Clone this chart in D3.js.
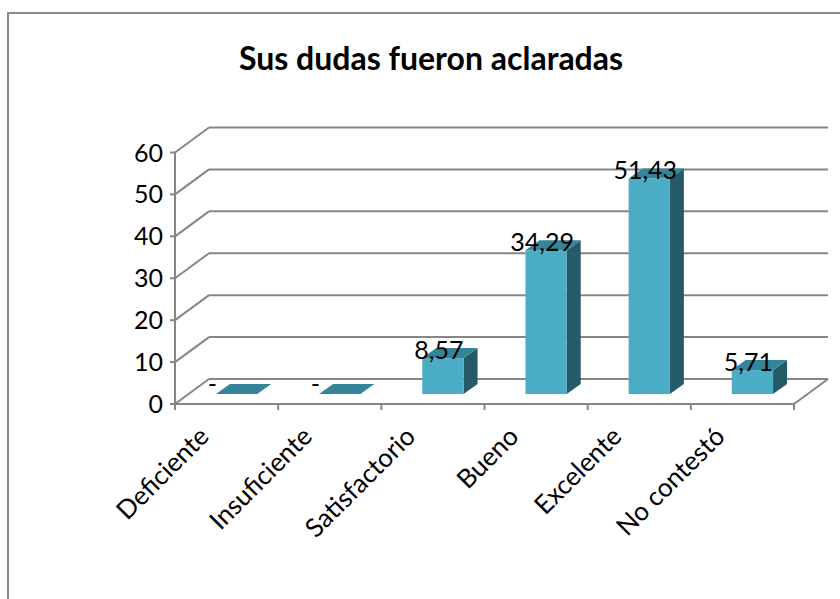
<!DOCTYPE html>
<html><head><meta charset="utf-8">
<script src="https://cdn.jsdelivr.net/npm/d3@7"></script>
<style>body{margin:0;background:#fff}svg{display:block}text{font-family:Lato,"Open Sans",sans-serif}</style>
</head><body><svg id="c" width="840" height="599"></svg>
<script>
const title = "Sus dudas fueron aclaradas";
const categories = ["Deficiente","Insuficiente","Satisfactorio","Bueno","Excelente","No contestó"];
const values = [0, 0, 8.57, 34.29, 51.43, 5.71];
const labels = ["-", "-", "8,57", "34,29", "51,43", "5,71"];
const yTicks = [0,10,20,30,40,50,60];

const svg = d3.select("#c");
const gridC = "#868686";
// chart frame
svg.append("path").attr("d","M8,600 L8,13 L841,13").attr("fill","none").attr("stroke","#8a8a8a").attr("stroke-width",2);

svg.append("text").attr("x",431).attr("y",70).attr("text-anchor","middle")
  .attr("font-size",32).attr("font-weight","bold").text(title);

const x = d3.scaleBand().domain(categories).range([175,794]);
const y = d3.scaleLinear().domain([0,60]).range([404,152.5]);
const D = {dx:34, dy:-25};          // wall depth
const F = {dx:10, dy:-10};          // bar front plane offset
const S = {dx:14, dy:-10};          // bar depth
const bw = x.bandwidth()*0.4;

// back wall gridlines + left wall diagonals
yTicks.forEach(t=>{
  svg.append("line").attr("x1",x.range()[0]+D.dx).attr("x2",x.range()[1]+D.dx)
    .attr("y1",y(t)+D.dy).attr("y2",y(t)+D.dy).attr("stroke",gridC).attr("stroke-width",2);
  svg.append("line").attr("x1",x.range()[0]).attr("x2",x.range()[0]+D.dx)
    .attr("y1",y(t)).attr("y2",y(t)+D.dy).attr("stroke",gridC).attr("stroke-width",2);
  svg.append("line").attr("x1",x.range()[0]-5).attr("x2",x.range()[0])
    .attr("y1",y(t)).attr("y2",y(t)).attr("stroke",gridC).attr("stroke-width",2);
  svg.append("text").attr("x",x.range()[0]-12).attr("y",y(t)).attr("dy","0.36em")
    .attr("text-anchor","end").attr("font-size",25).text(t);
});
// front y axis
svg.append("line").attr("x1",x.range()[0]).attr("x2",x.range()[0]).attr("y1",y(60)).attr("y2",y(0)+6)
  .attr("stroke",gridC).attr("stroke-width",2);
// floor front edge and right edge
svg.append("line").attr("x1",x.range()[0]).attr("x2",x.range()[1]).attr("y1",y(0)).attr("y2",y(0))
  .attr("stroke",gridC).attr("stroke-width",2);
svg.append("line").attr("x1",x.range()[1]).attr("x2",x.range()[1]+D.dx).attr("y1",y(0)).attr("y2",y(0)+D.dy)
  .attr("stroke",gridC).attr("stroke-width",2);
// category ticks
d3.range(categories.length+1).forEach(i=>{
  const xx = x.range()[0] + i*x.step();
  svg.append("line").attr("x1",xx).attr("x2",xx).attr("y1",y(0)).attr("y2",y(0)+6)
    .attr("stroke",gridC).attr("stroke-width",2);
});

// bars
const g = svg.append("g");
categories.forEach((c,i)=>{
  const cx = x(c)+x.bandwidth()/2 + F.dx;
  const x0 = cx - bw/2, x1 = cx + bw/2;
  const yb = y(0)+F.dy, yt = y(values[i])+F.dy;
  // side
  g.append("path").attr("d",`M${x1},${yb} L${x1+S.dx},${yb+S.dy} L${x1+S.dx},${yt+S.dy} L${x1},${yt} Z`).attr("fill","#255b69");
  // top
  g.append("path").attr("d",`M${x0},${yt} L${x0+S.dx},${yt+S.dy} L${x1+S.dx},${yt+S.dy} L${x1},${yt} Z`).attr("fill","#35849a");
  // front
  if (values[i] > 0)
    g.append("rect").attr("x",x0).attr("y",yt).attr("width",bw).attr("height",yb-yt).attr("fill","#4bacc6");
  // label
  const isZero = values[i] === 0;
  g.append("text").attr("x", isZero ? x0 + 1 : cx - 4).attr("y", isZero ? yt - 1 : yt + 1)
    .attr("text-anchor", isZero ? "end" : "middle").attr("font-size",25).text(labels[i]);
});

// category labels
categories.forEach(c=>{
  const ax = x(c)+x.bandwidth()/2 - 16, ay = y(0)+34;
  svg.append("text").attr("transform",`translate(${ax},${ay}) rotate(-45)`)
    .attr("text-anchor","end").attr("font-size",26).text(c);
});
</script></body></html>
